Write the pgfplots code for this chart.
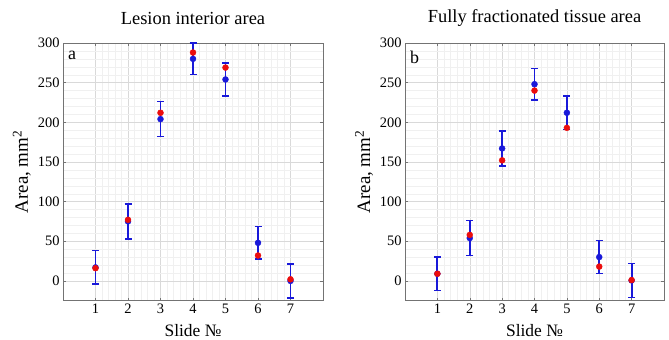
\documentclass[border=0pt]{standalone}
\usepackage{fontspec}
\setmainfont{Liberation Serif}
\usepackage{pgfplots}
\pgfplotsset{compat=1.18}
\definecolor{mblue}{rgb}{0.1,0.1,0.85}
\definecolor{mred}{rgb}{0.92,0.05,0.05}
\pgfplotsset{
  panel/.style={
    scale only axis, width=260bp, height=257.7bp, anchor=south west,
    xmin=0, xmax=8, ymin=-25, ymax=300,
    xtick={1,...,7}, ytick={0,50,...,300},
    minor x tick num=4, minor y tick num=4,
    grid=both,
    major grid style={draw=black!15, line width=0.4pt},
    minor grid style={draw=black!6, line width=0.3pt},
    axis line style={draw=black!55, line width=0.6pt},
    tick style={draw=black!55, line width=0.5pt},
    major tick length=3bp, minor tick length=0bp,
    tick align=inside,
    /pgf/number format/assume math mode=true,
    tick label style={font=\fontsize{14.5}{16}\selectfont, text=black},
    xlabel={Slide №}, ylabel={Area, mm\textsuperscript{2}},
    xlabel style={at={(axis description cs:0.5,-0.117)}, anchor=center, font=\fontsize{17.5}{19}\selectfont, text=black},
    ylabel style={at={(axis description cs:-0.158,0.5)}, anchor=center, font=\fontsize{19}{21}\selectfont, text=black},
    title style={at={(axis description cs:0.5,1.072)}, anchor=center, font=\fontsize{18.5}{20}\selectfont, text=black},
    clip=false,
  },
  bluepts/.style={mblue, only marks, mark=*, mark size=3bp,
    mark options={draw=mblue, fill=mblue},
    error bars/y dir=both, error bars/y explicit,
    error bars/error bar style={line width=1.8bp, mblue},
    error bars/error mark options={rotate=90, mark size=3.5bp, line width=1.5bp, mblue}},
  redpts/.style={mred, only marks, mark=*, mark size=3bp,
    mark options={draw=mred, fill=mred}},
}
\begin{document}
\begin{tikzpicture}
\useasboundingbox (0,0) rectangle (669bp,340bp);
\begin{axis}[panel, at={(63bp,39.3bp)}, title={Lesion interior area}]
\addplot[bluepts] coordinates {
 (1,17) +- (0,21)
 (2,75) +- (0,22)
 (3,204) +- (0,22)
 (4,280) +- (0,20)
 (5,254) +- (0,21)
 (6,48) +- (0,20.5)
 (7,0) +- (0,21.5)
};
\addplot[redpts] coordinates {(1,16) (2,77) (3,212) (4,288) (5,269) (6,32) (7,2)};
\node[anchor=north west, font=\fontsize{18}{19}\selectfont, inner sep=0pt] at (rel axis cs:0,1) [xshift=5bp, yshift=-8bp] {a};
\end{axis}
\begin{axis}[panel, at={(405bp,39.3bp)}, width=259bp, title={Fully fractionated tissue area}]
\addplot[bluepts] coordinates {
 (1,9) +- (0,21)
 (2,54) +- (0,22)
 (3,167) +- (0,22)
 (4,248) +- (0,20)
 (5,212) +- (0,21)
 (6,30) +- (0,21)
 (7,0.5) +- (0,21.5)
};
\addplot[redpts] coordinates {(1,9) (2,58) (3,152) (4,240) (5,193) (6,18) (7,1)};
\node[anchor=north west, font=\fontsize{18}{19}\selectfont, inner sep=0pt] at (rel axis cs:0,1) [xshift=5bp, yshift=-8bp] {b};
\end{axis}
\end{tikzpicture}
\end{document}
